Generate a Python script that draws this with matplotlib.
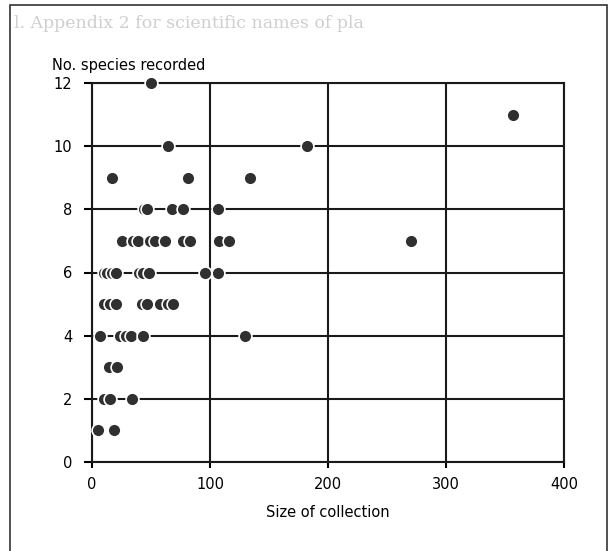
import matplotlib.pyplot as plt
from matplotlib.patches import Rectangle

plt.switch_backend('agg')

# species counts (y) and the collection sizes (x) found at each count
species_levels = [12, 11, 10, 9, 8, 7, 6, 5, 4, 3, 2, 1]
collection_sizes = [
    [50],
    [357],
    [64, 182],
    [17, 81, 134],
    [44, 47, 68, 77, 107],
    [25, 35, 39, 49, 53, 62, 77, 83, 108, 116, 270],
    [10, 13, 17, 20, 40, 43, 48, 96, 107],
    [10, 15, 20, 42, 47, 58, 64, 69],
    [7, 24, 29, 33, 43, 130],
    [14, 21],
    [10, 15, 34],
    [5, 19],
]
x_ticks = [0, 100, 200, 300, 400]
y_ticks = [0, 2, 4, 6, 8, 10, 12]

xs, ys = [], []
for level, sizes in zip(species_levels, collection_sizes):
    for s in sizes:
        xs.append(s)
        ys.append(level)

fig = plt.figure(figsize=(6.1, 5.51), dpi=100)
ax = fig.add_axes([92 / 610, 1 - 462 / 551, (564 - 92) / 610, (462 - 83) / 551])

ax.set_xlim(0, 400)
ax.set_ylim(0, 12)
ax.set_xticks(x_ticks)
ax.set_yticks(y_ticks)
ax.grid(True, color='#1a1a1a', linewidth=1.5)
ax.set_axisbelow(True)
for side in ax.spines.values():
    side.set_linewidth(1.5)
    side.set_color('#1a1a1a')
ax.tick_params(axis='y', direction='out', length=6, width=1.5, pad=8, labelsize=10.5)
ax.tick_params(axis='x', direction='out', length=4, width=1.5, pad=7, labelsize=10.5)

ax.scatter(xs, ys, s=85, color='#303030', edgecolors='white', linewidths=1.2, zorder=3, clip_on=False)

ax.set_xlabel('Size of collection', fontsize=10.5, labelpad=9)
fig.text(52 / 610, 1 - 65 / 551, 'No. species recorded', fontsize=10.5, ha='left', va='center')

# faint show-through text from the scanned page and the page frame
fig.text(14 / 610, 1 - 24 / 551, 'l. Appendix 2 for scientific names of pla', fontsize=12.5,
         family='serif', color='#cfcfcf', ha='left', va='center')
fig.patches.append(Rectangle((10 / 610, -0.02), 597 / 610, 1.02 - 5 / 551, transform=fig.transFigure,
                             fill=False, edgecolor='#333333', linewidth=1.2))

fig.savefig('out.png', dpi=100)
plt.close(fig)
